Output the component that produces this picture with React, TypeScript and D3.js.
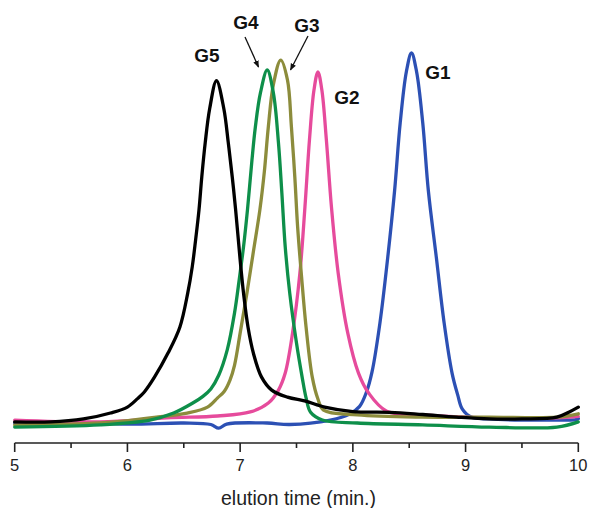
import React from "react";
import * as d3 from "d3";

// elution time (min), relative intensity (blue G1 peak = 100)
const g1Time = [5.0, 5.5, 6.0, 6.5, 6.74, 6.81, 6.88, 7.24, 7.44, 7.8, 7.97, 8.06, 8.12, 8.17, 8.24, 8.31, 8.37, 8.42, 8.475, 8.52, 8.565, 8.62, 8.67, 8.74, 8.81, 8.88, 8.93, 8.97, 9.05, 9.21, 9.5, 9.81, 9.98, 10.0];
const g1Val = [0, 0.3, -0.3, 0, -0.4, -1.4, -0.3, 0, -0.4, 0.8, 2.4, 4.5, 8.3, 13.8, 27.0, 44.9, 62.7, 81.1, 95.0, 100, 95.0, 81.1, 62.7, 44.9, 27.0, 13.5, 7.6, 3.8, 1.6, 1.1, 0.8, 0.8, 0.9, 1.2];

const g2Time = [5.0, 5.76, 6.35, 6.8, 7.09, 7.25, 7.34, 7.4, 7.465, 7.53, 7.575, 7.615, 7.655, 7.69, 7.725, 7.765, 7.81, 7.87, 7.955, 8.05, 8.14, 8.3, 8.62, 9.21, 9.81, 10.0];
const g2Val = [0.8, 0.3, 1.4, 1.9, 3.0, 5.4, 8.9, 13.5, 24.3, 40.5, 58.4, 76.5, 90.0, 94.9, 90.0, 76.5, 58.4, 40.5, 24.3, 13.5, 8.1, 3.2, 2.2, 1.4, 1.4, 1.8];

const g3Time = [5.0, 5.76, 6.2, 6.53, 6.71, 6.8, 6.86, 6.91, 6.95, 7.0, 7.06, 7.12, 7.175, 7.215, 7.25, 7.295, 7.36, 7.42, 7.455, 7.485, 7.51, 7.545, 7.585, 7.64, 7.69, 7.74, 8.04, 8.62, 9.21, 9.81, 10.0];
const g3Val = [-0.5, 0, 1.4, 2.7, 4.3, 6.8, 8.6, 11.6, 15.6, 24.3, 35.1, 46.8, 57.6, 68.0, 80.0, 91.5, 98.1, 92.7, 80.0, 66.5, 53.0, 39.5, 25.9, 12.4, 6.5, 3.5, 2.2, 1.6, 1.6, 1.6, 2.5];

const g4Time = [5.0, 5.76, 6.2, 6.41, 6.58, 6.67, 6.74, 6.81, 6.885, 6.95, 6.995, 7.03, 7.065, 7.105, 7.135, 7.18, 7.24, 7.295, 7.34, 7.37, 7.4, 7.44, 7.5, 7.55, 7.585, 7.625, 7.73, 8.04, 8.62, 9.21, 9.81, 10.0];
const g4Val = [-1.1, -0.5, 0.8, 2.7, 5.4, 7.2, 9.2, 12.9, 19.7, 29.7, 39.5, 47.6, 57.6, 71.1, 80.0, 89.2, 95.4, 89.2, 75.7, 62.2, 47.6, 35.1, 21.6, 12.4, 6.8, 2.9, 0.8, 0, -0.5, -1.1, -1.1, 0.3];

const g5Time = [5.0, 5.32, 5.61, 5.85, 6.0, 6.09, 6.15, 6.24, 6.36, 6.465, 6.535, 6.575, 6.605, 6.635, 6.66, 6.69, 6.73, 6.79, 6.855, 6.895, 6.93, 6.96, 7.0, 7.03, 7.07, 7.12, 7.19, 7.28, 7.42, 7.58, 7.75, 8.0, 8.33, 8.62, 8.92, 9.21, 9.5, 9.81, 9.92, 10.0];
const g5Val = [0.3, 0.3, 1.1, 2.7, 4.3, 6.6, 8.4, 12.4, 18.9, 25.9, 35.1, 42.2, 49.5, 57.6, 66.6, 75.7, 85.0, 92.5, 85.0, 75.7, 66.5, 57.6, 44.1, 35.1, 25.9, 18.6, 12.4, 8.9, 7.0, 5.9, 4.3, 3.1, 2.9, 2.3, 1.6, 1.1, 1.1, 1.6, 3.0, 4.3];

const seriesNames = ["G1", "G2", "G3", "G4", "G5"];
const seriesColors = ["#2c50b4", "#e64b9c", "#8c8c3c", "#0e8f4a", "#000000"];
const xTicks = [5, 6, 7, 8, 9, 10];
const xMinorTicks = [5.5, 6.5, 7.5, 8.5, 9.5];

const W = 589;
const H = 508;

export default function App() {
  const x = d3.scaleLinear().domain([5, 10]).range([14.7, 578.3]);
  const y = d3.scaleLinear().domain([-5.4, 100]).range([443, 53]);
  const line = d3
    .line<[number, number]>()
    .x((d) => x(d[0]))
    .y((d) => y(d[1]))
    .curve(d3.curveCatmullRom.alpha(0.5));

  const series = [
    { name: seriesNames[0], t: g1Time, v: g1Val, color: seriesColors[0] },
    { name: seriesNames[1], t: g2Time, v: g2Val, color: seriesColors[1] },
    { name: seriesNames[2], t: g3Time, v: g3Val, color: seriesColors[2] },
    { name: seriesNames[3], t: g4Time, v: g4Val, color: seriesColors[3] },
    { name: seriesNames[4], t: g5Time, v: g5Val, color: seriesColors[4] },
  ];

  const font = "Liberation Sans, Arial, sans-serif";

  return (
    <svg
      width={W}
      height={H}
      style={{ position: "absolute", left: 0, top: 0, background: "#fff" }}
    >
      <defs>
        <marker
          id="arrow"
          viewBox="0 0 10 10"
          refX="9"
          refY="5"
          markerWidth="7"
          markerHeight="7"
          orient="auto"
          markerUnits="userSpaceOnUse"
        >
          <path d="M0,1 L10,5 L0,9 Z" fill="#111" />
        </marker>
      </defs>
      {series.map((s) => (
        <path
          key={s.name}
          d={line(s.t.map((t, i) => [t, s.v[i]] as [number, number])) || ""}
          fill="none"
          stroke={s.color}
          strokeWidth={3.3}
          strokeLinejoin="round"
          strokeLinecap="round"
        />
      ))}
      {/* x axis */}
      <line x1={x(5)} x2={x(10)} y1={443} y2={443} stroke="#222" strokeWidth={1.6} />
      {xTicks.map((t) => (
        <g key={t}>
          <line x1={x(t)} x2={x(t)} y1={443} y2={452} stroke="#222" strokeWidth={1.6} />
          <text
            x={x(t)}
            y={471}
            textAnchor="middle"
            fontFamily={font}
            fontSize={16.5}
            fill="#222"
          >
            {t}
          </text>
        </g>
      ))}
      {xMinorTicks.map((t) => (
        <line key={t} x1={x(t)} x2={x(t)} y1={443} y2={448} stroke="#222" strokeWidth={1.6} />
      ))}
      <text
        x={(x(5) + x(10)) / 2 + 2}
        y={505}
        textAnchor="middle"
        fontFamily={font}
        fontSize={19.5}
        fill="#222"
      >
        elution time (min.)
      </text>
      {/* peak labels */}
      <g fontFamily={font} fontWeight="bold" fontSize={19} fill="#111">
        <text x={207} y={62} textAnchor="middle">G5</text>
        <text x={246} y={29} textAnchor="middle">G4</text>
        <text x={307} y={32} textAnchor="middle">G3</text>
        <text x={347} y={104} textAnchor="middle">G2</text>
        <text x={438} y={79} textAnchor="middle">G1</text>
      </g>
      <line x1={245} y1={37} x2={258.5} y2={67} stroke="#111" strokeWidth={1.3} markerEnd="url(#arrow)" />
      <line x1={308} y1={36} x2={290.5} y2={70} stroke="#111" strokeWidth={1.3} markerEnd="url(#arrow)" />
    </svg>
  );
}
